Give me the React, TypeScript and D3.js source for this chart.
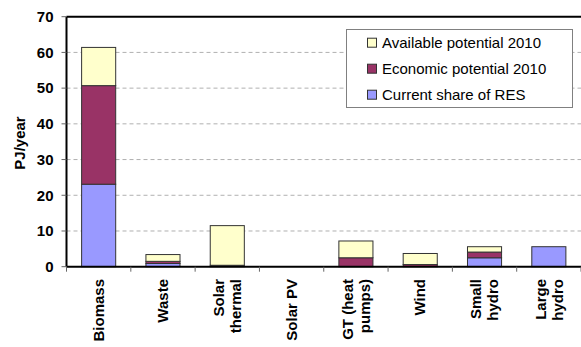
import React from "react";
import * as d3 from "d3";

const categories: string[][] = [
  ["Biomass"],
  ["Waste"],
  ["Solar", "thermal"],
  ["Solar PV"],
  ["GT (heat", "pumps)"],
  ["Wind"],
  ["Small", "hydro"],
  ["Large", "hydro"],
];
const currentShare = [23.1, 0.9, 0.4, 0, 0, 0, 2.5, 5.6];
const economicPotential = [27.6, 0.6, 0, 0, 2.5, 0.6, 1.6, 0];
const availablePotential = [10.7, 1.9, 11.1, 0, 4.7, 3.1, 1.5, 0];
const seriesNames = ["Current share of RES", "Economic potential 2010", "Available potential 2010"];
const seriesColors = ["#9999FF", "#993366", "#FFFFCC"];
const yTicks = [0, 10, 20, 30, 40, 50, 60, 70];
const yTitle = "PJ/year";

const W = 581;
const H = 347;
const left = 66.5;
const right = 581;
const top = 16.7;
const bottom = 266.7;

export default function App() {
  const x = d3
    .scaleBand<number>()
    .domain(d3.range(categories.length))
    .range([left, right])
    .paddingInner(0.47)
    .paddingOuter(0.235);
  const xOuter = d3.scaleBand<number>().domain(d3.range(categories.length)).range([left, right]);
  const y = d3.scaleLinear().domain([0, 70]).range([bottom, top]);

  const rows = categories.map((_, i) => ({
    i,
    s0: currentShare[i],
    s1: economicPotential[i],
    s2: availablePotential[i],
  }));
  const stack = d3.stack<any>().keys(["s0", "s1", "s2"]);
  const layers = stack(rows);

  const font = "Arial, 'Liberation Sans', sans-serif";
  const legendOrder = [2, 1, 0];

  return (
    <svg
      width={W}
      height={H}
      style={{ position: "absolute", left: 0, top: 0, background: "#fff" }}
      fontFamily={font}
    >
      <rect x={0} y={0} width={W} height={H} fill="#fff" />
      {/* gridlines */}
      {yTicks
        .filter((t) => t > 0 && t < 70)
        .map((t) => (
          <line
            key={"g" + t}
            x1={left}
            x2={right}
            y1={y(t)}
            y2={y(t)}
            stroke="#b0b0b0"
            strokeWidth={1}
            strokeDasharray="4,3"
          />
        ))}
      {/* bars */}
      {layers.map((layer, li) =>
        layer.map((d, i) => {
          const h = y(d[0]) - y(d[1]);
          if (h <= 0.01) return null;
          return (
            <rect
              key={li + "-" + i}
              x={x(i)!}
              y={y(d[1])}
              width={x.bandwidth()}
              height={h}
              fill={seriesColors[li]}
              stroke="#333"
              strokeWidth={1}
            />
          );
        })
      )}
      {/* plot frame: top, left, bottom */}
      <line x1={left} x2={right} y1={top} y2={top} stroke="#000" strokeWidth={2} />
      <line x1={left} x2={left} y1={top} y2={bottom} stroke="#000" strokeWidth={2} />
      <line x1={left} x2={right} y1={bottom} y2={bottom} stroke="#000" strokeWidth={2} />
      {/* y ticks */}
      {yTicks.map((t) => (
        <g key={"t" + t}>
          <line x1={left - 5} x2={left} y1={y(t)} y2={y(t)} stroke="#666" strokeWidth={1} />
          <text
            x={53.5}
            y={y(t)}
            dy="0.35em"
            textAnchor="end"
            fontSize={15}
            fontWeight="bold"
            fill="#000"
          >
            {t}
          </text>
        </g>
      ))}
      {/* x ticks */}
      {d3.range(categories.length + 1).map((i) => {
        const xx = i < categories.length ? xOuter(i)! : right;
        return <line key={"xt" + i} x1={xx} x2={xx} y1={bottom} y2={bottom + 5} stroke="#666" strokeWidth={1} />;
      })}
      {/* x labels */}
      {categories.map((lines, i) => {
        const cx = xOuter(i)! + xOuter.bandwidth() / 2;
        const n = lines.length;
        return (
          <g key={"xl" + i}>
            {lines.map((ln, j) => {
              const bx = cx + 5.2 - ((n - 1) * 17) / 2 + j * 17;
              return (
                <text
                  key={j}
                  transform={`translate(${bx},279) rotate(-90)`}
                  textAnchor="end"
                  fontSize={15}
                  fontWeight="bold"
                  fill="#000"
                >
                  {ln}
                </text>
              );
            })}
          </g>
        );
      })}
      {/* y title */}
      <text
        transform={`translate(20,143) rotate(-90)`}
        dy="0.35em"
        textAnchor="middle"
        fontSize={15}
        fontWeight="bold"
        fill="#000"
      >
        {yTitle}
      </text>
      {/* legend */}
      <rect x={346.5} y={29.5} width={226} height={78} fill="#fff" stroke="#808080" strokeWidth={1} />
      {legendOrder.map((si, k) => {
        const cy = 42.7 + k * 26;
        return (
          <g key={"lg" + si}>
            <rect x={367.5} y={cy - 4.5} width={9} height={9} fill={seriesColors[si]} stroke="#333" strokeWidth={1} />
            <text x={382} y={cy} dy="0.35em" fontSize={15} fill="#000">
              {seriesNames[si]}
            </text>
          </g>
        );
      })}
    </svg>
  );
}
